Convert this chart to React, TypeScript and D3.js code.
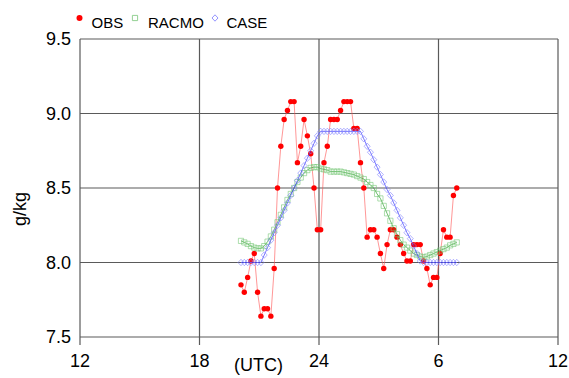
import React from 'react';
import * as d3 from 'd3';

// sample times (UTC), 10-minute obs from the evening to next morning
const times = [
  '20:05', '20:15', '20:25', '20:35', '20:45', '20:55',
  '21:05', '21:15', '21:25', '21:35', '21:45', '21:55',
  '22:05', '22:15', '22:25', '22:35', '22:45', '22:55',
  '23:05', '23:15', '23:25', '23:35', '23:45', '23:55',
  '00:05', '00:15', '00:25', '00:35', '00:45', '00:55',
  '01:05', '01:15', '01:25', '01:35', '01:45', '01:55',
  '02:05', '02:15', '02:25', '02:35', '02:45', '02:55',
  '03:05', '03:15', '03:25', '03:35', '03:45', '03:55',
  '04:05', '04:15', '04:25', '04:35', '04:45', '04:55',
  '05:05', '05:15', '05:25', '05:35', '05:45', '05:55',
  '06:05', '06:15', '06:25', '06:35', '06:45', '06:55',
];

const obs = [
  7.85, 7.80, 7.90, 8.01, 8.06, 7.80, 7.64, 7.69, 7.69, 7.64, 7.96, 8.50,
  8.78, 8.96, 9.02, 9.08, 9.08, 8.67, 8.78, 8.96, 8.85, 8.73, 8.50, 8.22,
  8.22, 8.67, 8.78, 8.96, 8.96, 8.96, 9.02, 9.08, 9.08, 9.08, 8.90, 8.90,
  8.67, 8.50, 8.17, 8.22, 8.22, 8.17, 8.06, 7.96, 8.12, 8.22, 8.22, 8.17,
  8.12, 8.06, 8.01, 8.01, 8.12, 8.12, 8.12, 8.01, 7.96, 7.85, 7.90, 7.90,
  8.06, 8.22, 8.17, 8.17, 8.45, 8.50,
];

const racmo = [
  8.145, 8.135, 8.125, 8.11, 8.10, 8.095, 8.095, 8.11, 8.14, 8.175, 8.22, 8.27,
  8.32, 8.37, 8.42, 8.46, 8.50, 8.54, 8.57, 8.60, 8.62, 8.635, 8.64, 8.64,
  8.63, 8.625, 8.62, 8.61, 8.61, 8.61, 8.61, 8.605, 8.60, 8.595, 8.59, 8.58,
  8.57, 8.56, 8.54, 8.52, 8.50, 8.46, 8.43, 8.38, 8.33, 8.28, 8.23, 8.19,
  8.15, 8.12, 8.10, 8.08, 8.06, 8.05, 8.04, 8.035, 8.04, 8.05, 8.06, 8.07,
  8.08, 8.09, 8.10, 8.115, 8.125, 8.135,
];

const caseRun = [
  8.00, 8.00, 8.00, 8.00, 8.00, 8.00, 8.00, 8.05, 8.10, 8.15, 8.20, 8.25,
  8.30, 8.35, 8.40, 8.45, 8.50, 8.55, 8.60, 8.65, 8.70, 8.75, 8.80, 8.85,
  8.88, 8.88, 8.88, 8.88, 8.88, 8.88, 8.88, 8.88, 8.88, 8.88, 8.88, 8.88,
  8.88, 8.83, 8.78, 8.74, 8.69, 8.64, 8.59, 8.54, 8.49, 8.45, 8.40, 8.35,
  8.30, 8.25, 8.20, 8.16, 8.11, 8.06, 8.01, 8.00, 8.00, 8.00, 8.00, 8.00,
  8.00, 8.00, 8.00, 8.00, 8.00, 8.00,
];

const xTicks = [12, 18, 24, 30, 36];
const xTickLabels = ['12', '18', '24', '6', '12'];
const yTicks = [7.5, 8.0, 8.5, 9.0, 9.5];

const W = 569;
const H = 378;
const font = 'Liberation Sans, Arial, Helvetica, sans-serif';

// hours after 00 UTC of day 1 (morning hours belong to next day)
const toHour = (s: string) => {
  const [h, m] = s.split(':').map(Number);
  return (h < 12 ? h + 24 : h) + m / 60;
};
const hours = times.map(toHour);

const x = d3.scaleLinear().domain([12, 36]).range([80, 558]);
const y = d3.scaleLinear().domain([7.5, 9.5]).range([337, 39]);

const lineOf = (vals: number[]) =>
  d3.line<number>().x((_, i) => x(hours[i])).y((v) => y(v))(vals) || '';

const sq = 'M-2.6,-2.6H2.6V2.6H-2.6Z';
const dia = 'M0,-3.2L3,0L0,3.2L-3,0Z';

const Legend = () => (
  <g fontFamily={font} fontSize={15} fill="#000">
    <circle cx={79.5} cy={18} r={3} fill="#ff0000" />
    <text x={91.5} y={28}>OBS</text>
    <path d={sq} transform="translate(135,18)" fill="none" stroke="#88cc88" strokeWidth={0.9} />
    <text x={148} y={28}>RACMO</text>
    <path d={dia} transform="translate(215,18)" fill="none" stroke="#8888ff" strokeWidth={0.9} />
    <text x={226.5} y={28}>CASE</text>
  </g>
);

export default function App() {
  return (
    <svg width={W} height={H} style={{ position: 'absolute', left: 0, top: 0, background: '#fff' }}>
      {/* grid */}
      <g stroke="#5a5a5a" strokeWidth={1.2}>
        {yTicks.map((t) => (
          <line key={'h' + t} x1={80} x2={558} y1={y(t)} y2={y(t)} />
        ))}
        {xTicks.map((t) => (
          <line key={'v' + t} x1={x(t)} x2={x(t)} y1={39} y2={345} />
        ))}
      </g>

      {/* axis labels */}
      <g fontFamily={font} fontSize={18} fill="#000">
        {yTicks.map((t) => (
          <text key={'yl' + t} x={71} y={y(t)} dy="0.36em" textAnchor="end">
            {d3.format('.1f')(t)}
          </text>
        ))}
        {xTicks.map((t, i) => (
          <text key={'xl' + i} x={x(t)} y={366.5} textAnchor="middle">
            {xTickLabels[i]}
          </text>
        ))}
        <text x={258.5} y={371} textAnchor="middle">(UTC)</text>
        <text transform="translate(26,209) rotate(-90)" textAnchor="middle">g/kg</text>
      </g>

      {/* OBS */}
      <path d={lineOf(obs)} fill="none" stroke="#ff5050" strokeWidth={0.6} />
      {obs.map((v, i) => (
        <circle key={'o' + i} cx={x(hours[i])} cy={y(v)} r={2.7} fill="#ff0000" />
      ))}

      {/* RACMO */}
      <path d={lineOf(racmo)} fill="none" stroke="#2f9f2f" strokeWidth={0.7} />
      {racmo.map((v, i) => (
        <path key={'r' + i} d={sq} transform={`translate(${x(hours[i])},${y(v)})`}
          fill="none" stroke="#77c777" strokeWidth={0.6} />
      ))}

      {/* CASE */}
      <path d={lineOf(caseRun)} fill="none" stroke="#3a3aff" strokeWidth={0.7} />
      {caseRun.map((v, i) => (
        <path key={'c' + i} d={dia} transform={`translate(${x(hours[i])},${y(v)})`}
          fill="none" stroke="#8080ff" strokeWidth={0.6} />
      ))}

      <Legend />
    </svg>
  );
}
